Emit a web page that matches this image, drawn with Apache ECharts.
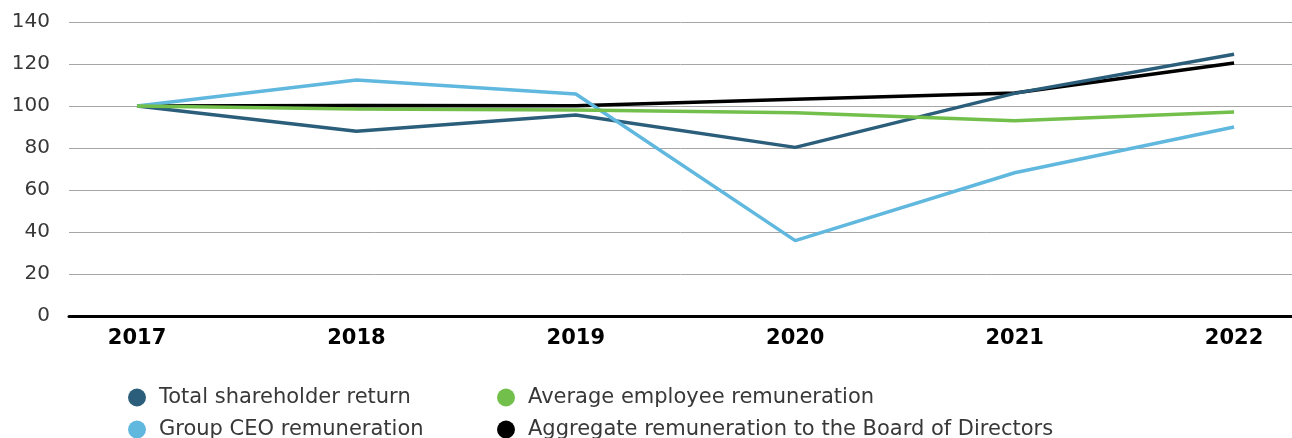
<!DOCTYPE html>
<html>
<head>
<meta charset="utf-8">
<script src="https://cdn.jsdelivr.net/npm/echarts@6/dist/echarts.min.js"></script>
<style>
  html, body { margin: 0; padding: 0; background: #fff; }
  #chart { width: 1292px; height: 438px; }
</style>
</head>
<body>
<div id="chart"></div>
<script>
const years = [2017, 2018, 2019, 2020, 2021, 2022]
const yTicks = [0, 20, 40, 60, 80, 100, 120, 140]

const tsr = [100, 88, 95.7, 80.3, 106, 124.6]
const ceo = [100, 112.4, 105.7, 35.9, 68.2, 90]
const employee = [100, 98.6, 98.1, 96.8, 93, 97.1]
const board = [100, 100.2, 100.1, 103.2, 106.2, 120.5]

const seriesDefs = [
  { name: 'Total shareholder return', data: tsr, color: '#2b5e7b' },
  { name: 'Group CEO remuneration', data: ceo, color: '#60b8de' },
  { name: 'Average employee remuneration', data: employee, color: '#72bf4b' },
  { name: 'Aggregate remuneration to the Board of Directors', data: board, color: '#000000' }
]

// legend slots: [left, top] for each series, two columns
const legendSlots = [[128, 387], [128, 419], [497, 387], [497, 419]]

const font = '"DejaVu Sans", sans-serif'

const chart = echarts.init(document.getElementById('chart'))

chart.setOption({
  animation: false,
  grid: { left: 69, right: 0, top: 22, bottom: 122 },
  legend: seriesDefs.map((s, i) => ({
    data: [s.name],
    left: legendSlots[i][0],
    top: legendSlots[i][1],
    icon: 'circle',
    itemWidth: 18,
    itemHeight: 18,
    padding: 0,
    textStyle: {
      fontFamily: font,
      fontSize: 21,
      color: '#383838',
      padding: [0, 0, 0, 8]
    }
  })),
  xAxis: {
    type: 'value',
    min: 2016.69,
    max: 2022.264,
    axisLine: { show: true, onZero: false, lineStyle: { color: '#000', width: 3 } },
    axisTick: { show: false },
    splitLine: { show: false },
    axisLabel: {
      customValues: years,
      formatter: v => String(v),
      color: '#000',
      fontFamily: font,
      fontSize: 21,
      fontWeight: 'bold',
      margin: 12
    }
  },
  yAxis: {
    type: 'value',
    min: 0,
    max: 140,
    interval: 20,
    axisLine: { show: false },
    axisTick: { show: false },
    splitLine: { lineStyle: { color: '#a6a6a6', width: 1 } },
    axisLabel: {
      customValues: yTicks,
      color: '#383838',
      fontFamily: font,
      fontSize: 20,
      margin: 19
    }
  },
  series: seriesDefs.map(s => ({
    name: s.name,
    type: 'line',
    data: s.data.map((v, i) => [years[i], v]),
    symbol: 'none',
    color: s.color,
    lineStyle: { color: s.color, width: 3.5 },
    z: s.name.startsWith('Aggregate') ? 2 : 3
  }))
})
</script>
</body>
</html>
